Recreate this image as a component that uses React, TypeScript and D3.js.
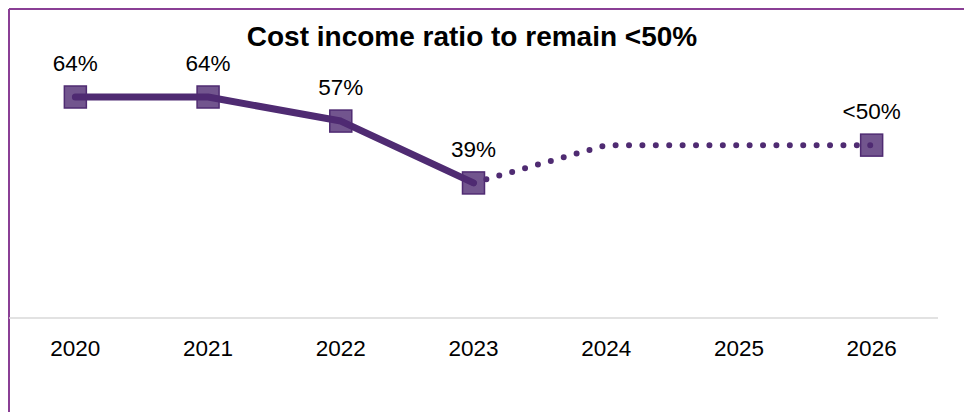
import React from "react";
import * as d3 from "d3";

const years = ["2020", "2021", "2022", "2023", "2024", "2025", "2026"];
const actualValues: (number | null)[] = [64, 64, 57, 39, null, null, null];
const targetValues: (number | null)[] = [null, null, null, 39, 50, 50, 50];
const markerLabels: (string | null)[] = ["64%", "64%", "57%", "39%", null, null, "<50%"];
const markerValues: (number | null)[] = [64, 64, 57, 39, null, null, 50];
const title = "Cost income ratio to remain <50%";

const W = 964;
const H = 412;
const LINE = "#4f2b72";
const FONT = "Liberation Sans, Arial, sans-serif";

export default function App() {
  const x = d3.scaleBand<string>().domain(years).range([9, 938]);
  const y = d3.scaleLinear().domain([0, 64]).range([317, 97]);
  const cx = (i: number) => (x(years[i]) as number) + x.bandwidth() / 2;

  const actualPts = actualValues.map((v, i) => ({ v, i })).filter((d) => d.v !== null);
  const targetPts = targetValues.map((v, i) => ({ v, i })).filter((d) => d.v !== null);
  const lineGen = d3
    .line<{ v: number | null; i: number }>()
    .x((d) => cx(d.i))
    .y((d) => y(d.v as number))
    .curve(d3.curveLinear);

  return (
    <svg
      width={W}
      height={H}
      style={{ position: "absolute", left: 0, top: 0, background: "#fff" }}
      fontFamily={FONT}
    >
      <rect x={0} y={0} width={W} height={H} fill="#fff" />
      <line x1={9} x2={W} y1={9} y2={9} stroke="#8a3f95" strokeWidth={2} />
      <line x1={9} x2={9} y1={9} y2={H} stroke="#8a3f95" strokeWidth={2} />
      <text x={472} y={46} textAnchor="middle" fontSize={28} fontWeight="bold" fill="#000">
        {title}
      </text>
      <line x1={9} x2={938} y1={318} y2={318} stroke="#d9d9d9" strokeWidth={1.5} />
      {years.map((yr, i) => (
        <text key={yr} x={cx(i)} y={356} textAnchor="middle" fontSize={22.5} fill="#000">
          {yr}
        </text>
      ))}
      <path
        d={lineGen(targetPts) || ""}
        fill="none"
        stroke={LINE}
        strokeWidth={6}
        strokeLinecap="round"
        strokeDasharray="0 13.4"
      />
      <path
        d={lineGen(actualPts) || ""}
        fill="none"
        stroke={LINE}
        strokeWidth={7}
        strokeLinecap="round"
        strokeLinejoin="round"
      />
      {markerValues.map((v, i) =>
        v === null ? null : (
          <rect
            key={i}
            x={cx(i) - 11}
            y={y(v) - 11}
            width={22}
            height={22}
            fill={LINE}
            fillOpacity={0.8}
            stroke={LINE}
            strokeWidth={1.5}
          />
        )
      )}
      {markerValues.map((v, i) =>
        v === null || markerLabels[i] === null ? null : (
          <text key={"l" + i} x={cx(i)} y={y(v) - 26} textAnchor="middle" fontSize={22.5} fill="#000">
            {markerLabels[i]}
          </text>
        )
      )}
    </svg>
  );
}
